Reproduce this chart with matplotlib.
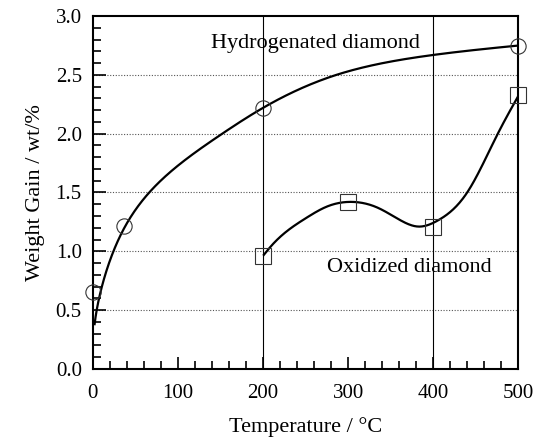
import numpy as np
import matplotlib
matplotlib.use("Agg")
import matplotlib.pyplot as plt
from matplotlib.ticker import MultipleLocator, FormatStrFormatter

plt.rcParams['font.family'] = ['Liberation Serif', 'DejaVu Serif']

# Measured weight gain
temp_h = [0, 37, 200, 500]
gain_h = [0.655, 1.215, 2.22, 2.75]
temp_o = [200, 300, 400, 500]
gain_o = [0.96, 1.42, 1.21, 2.33]

# Guide curves through the data (knots)
curve_h_x = [2, 9, 37, 65, 152, 200, 286, 400, 500]
curve_h_y = [0.38, 0.655, 1.20, 1.49, 2.00, 2.22, 2.50, 2.67, 2.75]
curve_o_x = [201, 209, 250, 275, 305, 335, 360, 383, 405, 440, 476, 500]
curve_o_y = [0.97, 1.04, 1.28, 1.38, 1.42, 1.37, 1.27, 1.21, 1.26, 1.50, 2.00, 2.32]


def natural_spline(x, y, n=400):
    x = np.asarray(x, float)
    y = np.asarray(y, float)
    k = len(x)
    h = np.diff(x)
    A = np.zeros((k, k))
    b = np.zeros(k)
    A[0, 0] = A[-1, -1] = 1
    for i in range(1, k - 1):
        A[i, i - 1] = h[i - 1]
        A[i, i] = 2 * (h[i - 1] + h[i])
        A[i, i + 1] = h[i]
        b[i] = 6 * ((y[i + 1] - y[i]) / h[i] - (y[i] - y[i - 1]) / h[i - 1])
    m = np.linalg.solve(A, b)
    xs = np.linspace(x[0], x[-1], n)
    idx = np.clip(np.searchsorted(x, xs) - 1, 0, k - 2)
    x0, x1 = x[idx], x[idx + 1]
    y0, y1 = y[idx], y[idx + 1]
    m0, m1 = m[idx], m[idx + 1]
    hh = x1 - x0
    t1 = x1 - xs
    t0 = xs - x0
    ys = (m0 * t1**3 + m1 * t0**3) / (6 * hh) + (y0 / hh - m0 * hh / 6) * t1 + (y1 / hh - m1 * hh / 6) * t0
    return xs, ys


fig = plt.figure(figsize=(5.37, 4.37), dpi=100)
ax = fig.add_axes([0.173, 0.156, 0.792, 0.807])

ax.set_xlim(0, 500)
ax.set_ylim(0, 3.0)

# Reference lines
for yv in [0.5, 1.0, 1.5, 2.0, 2.5]:
    ax.axhline(yv, color='#555555', lw=0.8, ls=(0, (1, 1.5)), zorder=1)
for xv in [200, 400]:
    ax.axvline(xv, color='black', lw=0.8, zorder=1)

# hydrogenated curve: spline on a square-root temperature scale
us, ys = natural_spline(np.sqrt(curve_h_x), curve_h_y)
ax.plot(us**2, ys, color='black', lw=1.6, zorder=3)
xs, ys = natural_spline(curve_o_x, curve_o_y)
ax.plot(xs, ys, color='black', lw=1.6, zorder=3)

ax.plot(temp_h, gain_h, ls='none', marker='o', ms=11, mfc='none', mec='#333333', mew=0.8,
        zorder=4, clip_on=False)
ax.plot(temp_o, gain_o, ls='none', marker='s', ms=11, mfc='none', mec='#333333', mew=0.8,
        zorder=4, clip_on=False)

ax.text(262, 2.77, 'Hydrogenated diamond', fontsize=16, ha='center', va='center')
ax.text(372, 0.86, 'Oxidized diamond', fontsize=16, ha='center', va='center')

ax.xaxis.set_major_locator(MultipleLocator(100))
ax.xaxis.set_minor_locator(MultipleLocator(20))
ax.yaxis.set_major_locator(MultipleLocator(0.5))
ax.yaxis.set_minor_locator(MultipleLocator(0.1))
ax.yaxis.set_major_formatter(FormatStrFormatter('%.1f'))
ax.tick_params(which='both', direction='in', top=False, right=False, labelsize=15, width=1.2)
ax.tick_params(which='major', length=9)
ax.tick_params(which='minor', length=6)
ax.tick_params(axis='x', pad=11)
ax.tick_params(axis='y', pad=8)

for s in ax.spines.values():
    s.set_linewidth(1.5)

ax.set_xlabel('Temperature / °C', fontsize=16, labelpad=10)
ax.set_ylabel('Weight Gain / wt/%', fontsize=16, labelpad=8)

fig.savefig('out.png', dpi=100)
